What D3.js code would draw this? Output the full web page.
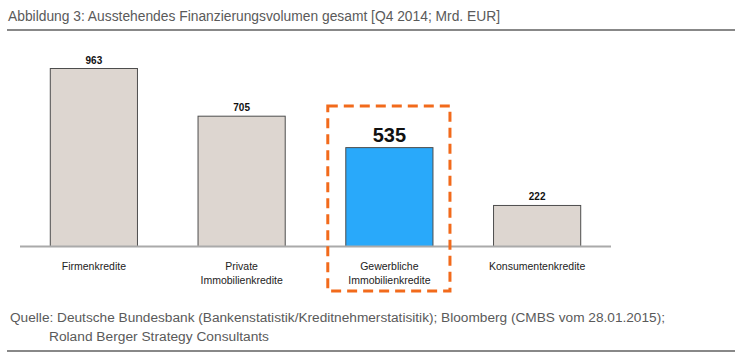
<!DOCTYPE html>
<html><head><meta charset="utf-8">
<script src="https://cdn.jsdelivr.net/npm/d3@7"></script>
<style>
html,body{margin:0;padding:0;background:#fff;}
svg{display:block;font-family:"Liberation Sans",Arial,sans-serif;}
</style></head>
<body>
<svg id="c" width="750" height="361"></svg>
<script>
const title = "Abbildung 3: Ausstehendes Finanzierungsvolumen gesamt [Q4 2014; Mrd. EUR]";
const categories = [["Firmenkredite"], ["Private", "Immobilienkredite"], ["Gewerbliche", "Immobilienkredite"], ["Konsumentenkredite"]];
const values = [963, 705, 535, 222];
const highlighted = [false, false, true, false];
const sourceLines = ["Quelle: Deutsche Bundesbank (Bankenstatistik/Kreditnehmerstatisitik); Bloomberg (CMBS vom 28.01.2015);", "Roland Berger Strategy Consultants"];

const svg = d3.select("#c");
const x = d3.scaleBand().domain(d3.range(values.length)).range([20, 611]).paddingInner(0.41).paddingOuter(0.205);
const y = d3.scaleLinear().domain([0, 963]).range([246.5, 68.5]);

// title
svg.append("text").attr("x", 8).attr("y", 21).attr("font-size", 13.8).attr("fill", "#5a5a5a")
  .attr("textLength", 492).attr("lengthAdjust", "spacingAndGlyphs").text(title);
svg.append("line").attr("x1", 7).attr("x2", 735).attr("y1", 30).attr("y2", 30).attr("stroke", "#888").attr("stroke-width", 2);

// bars
svg.selectAll("rect.bar").data(values).join("rect").attr("class", "bar")
  .attr("x", (d, i) => x(i)).attr("width", x.bandwidth())
  .attr("y", d => y(d)).attr("height", d => y(0) - y(d))
  .attr("fill", (d, i) => highlighted[i] ? "#29a9fa" : "#ddd6d0")
  .attr("stroke", "#4d4d4d").attr("stroke-width", 1);

// baseline
svg.append("line").attr("x1", x.range()[0]).attr("x2", x.range()[1]).attr("y1", y(0)).attr("y2", y(0)).attr("stroke", "#aaa").attr("stroke-width", 2);

// value labels
svg.selectAll("text.val").data(values).join("text").attr("class", "val")
  .attr("x", (d, i) => x(i) + x.bandwidth() / 2)
  .attr("y", (d, i) => y(d) - (highlighted[i] ? 6 : 5))
  .attr("text-anchor", "middle").attr("font-weight", "bold")
  .attr("font-size", (d, i) => highlighted[i] ? 20 : 10).attr("fill", "#111")
  .text(d => d);

// category labels
categories.forEach((lines, i) => {
  const t = svg.append("text").attr("text-anchor", "middle").attr("font-size", 10.5).attr("fill", "#222");
  lines.forEach((l, j) => t.append("tspan").attr("x", x(i) + x.bandwidth() / 2).attr("y", 270 + j * 14).text(l));
});

// highlight box
const hi = highlighted.indexOf(true);
const bx0 = x(hi) - 18, bx1 = x(hi) + x.bandwidth() + 17;
svg.append("rect").attr("x", bx0).attr("y", 106).attr("width", bx1 - bx0).attr("height", 185)
  .attr("fill", "none").attr("stroke", "#f26a1b").attr("stroke-width", 3).attr("stroke-dasharray", "10,6");

// source
svg.append("text").attr("x", 10).attr("y", 322).attr("font-size", 13.7).attr("fill", "#5a5a5a")
  .attr("textLength", 655).attr("lengthAdjust", "spacingAndGlyphs").text(sourceLines[0]);
svg.append("text").attr("x", 49).attr("y", 341).attr("font-size", 13.7).attr("fill", "#5a5a5a")
  .attr("textLength", 220).attr("lengthAdjust", "spacingAndGlyphs").text(sourceLines[1]);
svg.append("line").attr("x1", 7).attr("x2", 735).attr("y1", 351).attr("y2", 351).attr("stroke", "#888").attr("stroke-width", 2);
</script>
</body></html>
